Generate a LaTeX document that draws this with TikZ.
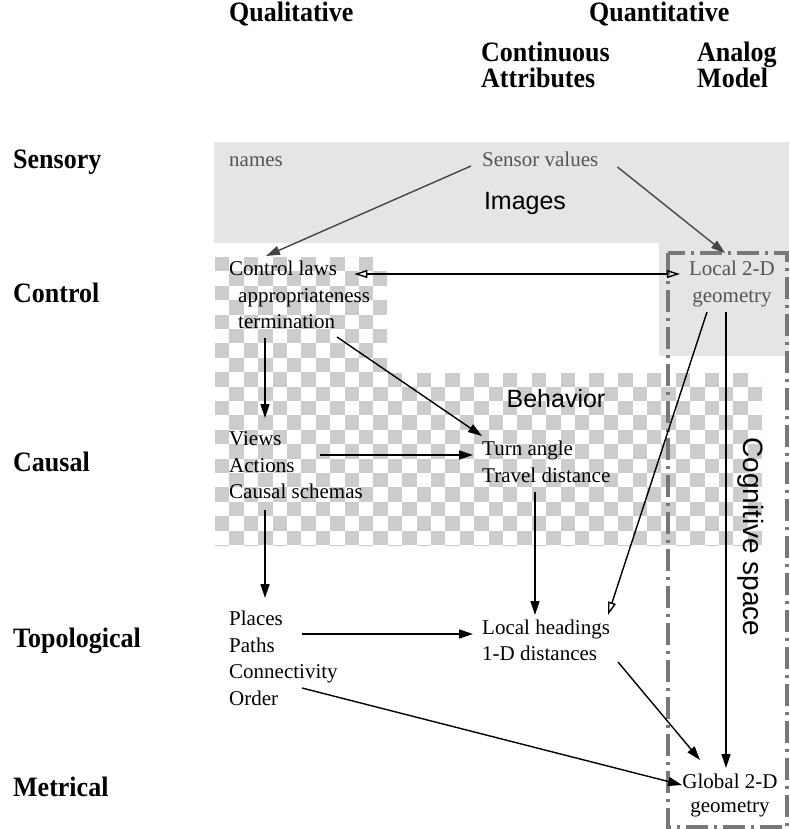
\documentclass[tikz,border=0pt]{standalone}
\usepackage{fontspec}
\setmainfont{Liberation Serif}
\newfontfamily\sansf{Liberation Sans}
\usetikzlibrary{arrows.meta,calc}
\definecolor{bandgray}{gray}{0.90}
\definecolor{chkgray}{gray}{0.80}
\definecolor{boxgray}{gray}{0.47}
\definecolor{txtgray}{gray}{0.33}
\definecolor{arrgray}{gray}{0.27}
\newcommand{\tallhdr}[1]{\scalebox{1}[1.08]{#1}}
\begin{document}
\begin{tikzpicture}[x=1pt,y=-1pt,
  txt/.style={inner sep=0pt, anchor=base west, font=\fontsize{21}{25}\selectfont},
  ctxt/.style={inner sep=0pt, anchor=base, font=\fontsize{21}{25}\selectfont},
  hdr/.style={inner sep=0pt, anchor=base west, font=\fontsize{26}{26}\selectfont\bfseries},
  hdrtwo/.style={inner sep=0pt, anchor=north west, align=left, font=\fontsize{26}{26.5}\selectfont\bfseries},
  sanslbl/.style={inner sep=0pt, font=\sansf\fontsize{25}{25}\selectfont},
  arr/.style={line width=1.4pt, -{Triangle[length=14pt,width=9pt]}},
  oarr/.style={line width=1.4pt, -{Triangle[open,length=13pt,width=8pt]}},
  dblarr/.style={line width=1.4pt, {Triangle[open,length=13pt,width=8pt]}-{Triangle[open,length=13pt,width=8pt]}},
  cogbox/.style={draw=boxgray, line width=3.5pt, dash pattern=on 22pt off 6pt on 3pt off 6pt}
]
\useasboundingbox (0,0) rectangle (789,829);
% background bands
\fill[bandgray] (214,142) rectangle (789,243);
\fill[bandgray] (659,243) rectangle (789,356);
% checkerboard
\begin{scope}
  \clip (215,257) -- (387,257) -- (387,373) -- (762,373) -- (762,546) -- (215,546) -- cycle;
  \foreach \i in {0,...,38}{
    \pgfmathsetmacro\off{mod(\i,2)}
    \foreach \j in {0,2,...,20}{
      \fill[chkgray] ({215+\i*14.4},{257+(\j+\off)*14.4}) rectangle ++(14.4,14.4);
    }}
\end{scope}
% cognitive space box
\draw[cogbox] (668,253) rectangle (787,827);

% headers
\node[hdr] (qual) at (229,22) {\tallhdr{Qualitative}};
\node[hdr] (quant) at (589,22) {\tallhdr{Quantitative}};
\node[hdrtwo] (cont) at (481,41.5) {\tallhdr{Continuous}\\\tallhdr{Attributes}};
\node[hdrtwo] (analog) at (697,41.5) {\tallhdr{Analog}\\\tallhdr{Model}};
% row labels
\node[hdr] (sensory) at (13,168) {\tallhdr{Sensory}};
\node[hdr] (control) at (13,302) {\tallhdr{Control}};
\node[hdr] (causal) at (13,471) {\tallhdr{Causal}};
\node[hdr] (topo) at (13,647) {\tallhdr{Topological}};
\node[hdr] (metrical) at (13,796) {\tallhdr{Metrical}};

% sensory row
\node[txt, text=txtgray] (names) at (229,167) {names};
\node[txt, text=txtgray] (sv) at (482,167) {Sensor values};
\node[sanslbl] (images) at (525,203) {Images};
% control row
\node[txt] (cl) at (229,275) {Control laws};
\node[txt] (app) at (238,302) {appropriateness};
\node[txt] (term) at (238,328) {termination};
\node[ctxt, text=txtgray] (l2d) at (732,275) {Local 2-D};
\node[ctxt, text=txtgray] (l2dg) at (732,302) {geometry};
% causal row
\node[sanslbl] (behav) at (556,399) {Behavior};
\node[txt] (views) at (229,445) {Views};
\node[txt] (actions) at (229,472) {Actions};
\node[txt] (cs) at (229,498) {Causal schemas};
\node[txt] (turn) at (482,455) {Turn angle};
\node[txt] (travel) at (482,482) {Travel distance};
% topological row
\node[txt] (places) at (229,625) {Places};
\node[txt] (paths) at (229,652) {Paths};
\node[txt] (conn) at (229,678) {Connectivity};
\node[txt] (order) at (229,705) {Order};
\node[txt] (lh) at (482,634) {Local headings};
\node[txt] (d1) at (482,660) {1-D distances};
% metrical row
\node[ctxt] (g2d) at (730,788) {Global 2-D};
\node[ctxt] (g2dg) at (730,812) {geometry};
% cognitive space
\node[sanslbl, font=\sansf\fontsize{28}{28}\selectfont, rotate=-90] (cog) at (751,537) {Cognitive space};

% connectors
\draw[arr, draw=arrgray, fill=arrgray] ($(sv.base west)+(-11,-1)$) -- ($(cl.base west)+(37,-19)$);
\draw[arr, draw=arrgray, fill=arrgray] ($(sv.base east)+(19,0)$) -- ($(l2d.base)+(-7,-22)$);
\draw[dblarr] ($(cl.base east)+(17,-1)$) -- ($(l2d.base west)+(-9,-1)$);
\draw[arr] ($(term.base west)+(27,10)$) -- ($(views.base west)+(36,-27)$);
\draw[arr] ($(term.base west)+(99,9)$) -- ($(turn.base west)+(0,-19)$);
\draw[arr] ($(views.base west)+(91,10)$) -- ($(turn.base west)+(-9,0)$);
\draw[arr] ($(cs.base west)+(36,12)$) -- ($(places.base west)+(36,-27)$);
\draw[arr] ($(travel.base west)+(53,10)$) -- ($(lh.base west)+(53,-19)$);
\draw[oarr] ($(l2dg.base)+(-25,10)$) -- ($(lh.base west)+(126,-19)$);
\draw[arr] ($(l2dg.base)+(-6,10)$) -- ($(g2d.base)+(-4,-20)$);
\draw[arr] ($(places.base west)+(73,9)$) -- ($(lh.base west)+(-9,0)$);
\draw[arr] ($(d1.base west)+(136,2)$) -- ($(g2d.base)+(-30,-28)$);
\draw[arr] ($(order.base west)+(73,-17)$) -- ($(g2d.base)+(-48,-3)$);
\end{tikzpicture}
\end{document}
